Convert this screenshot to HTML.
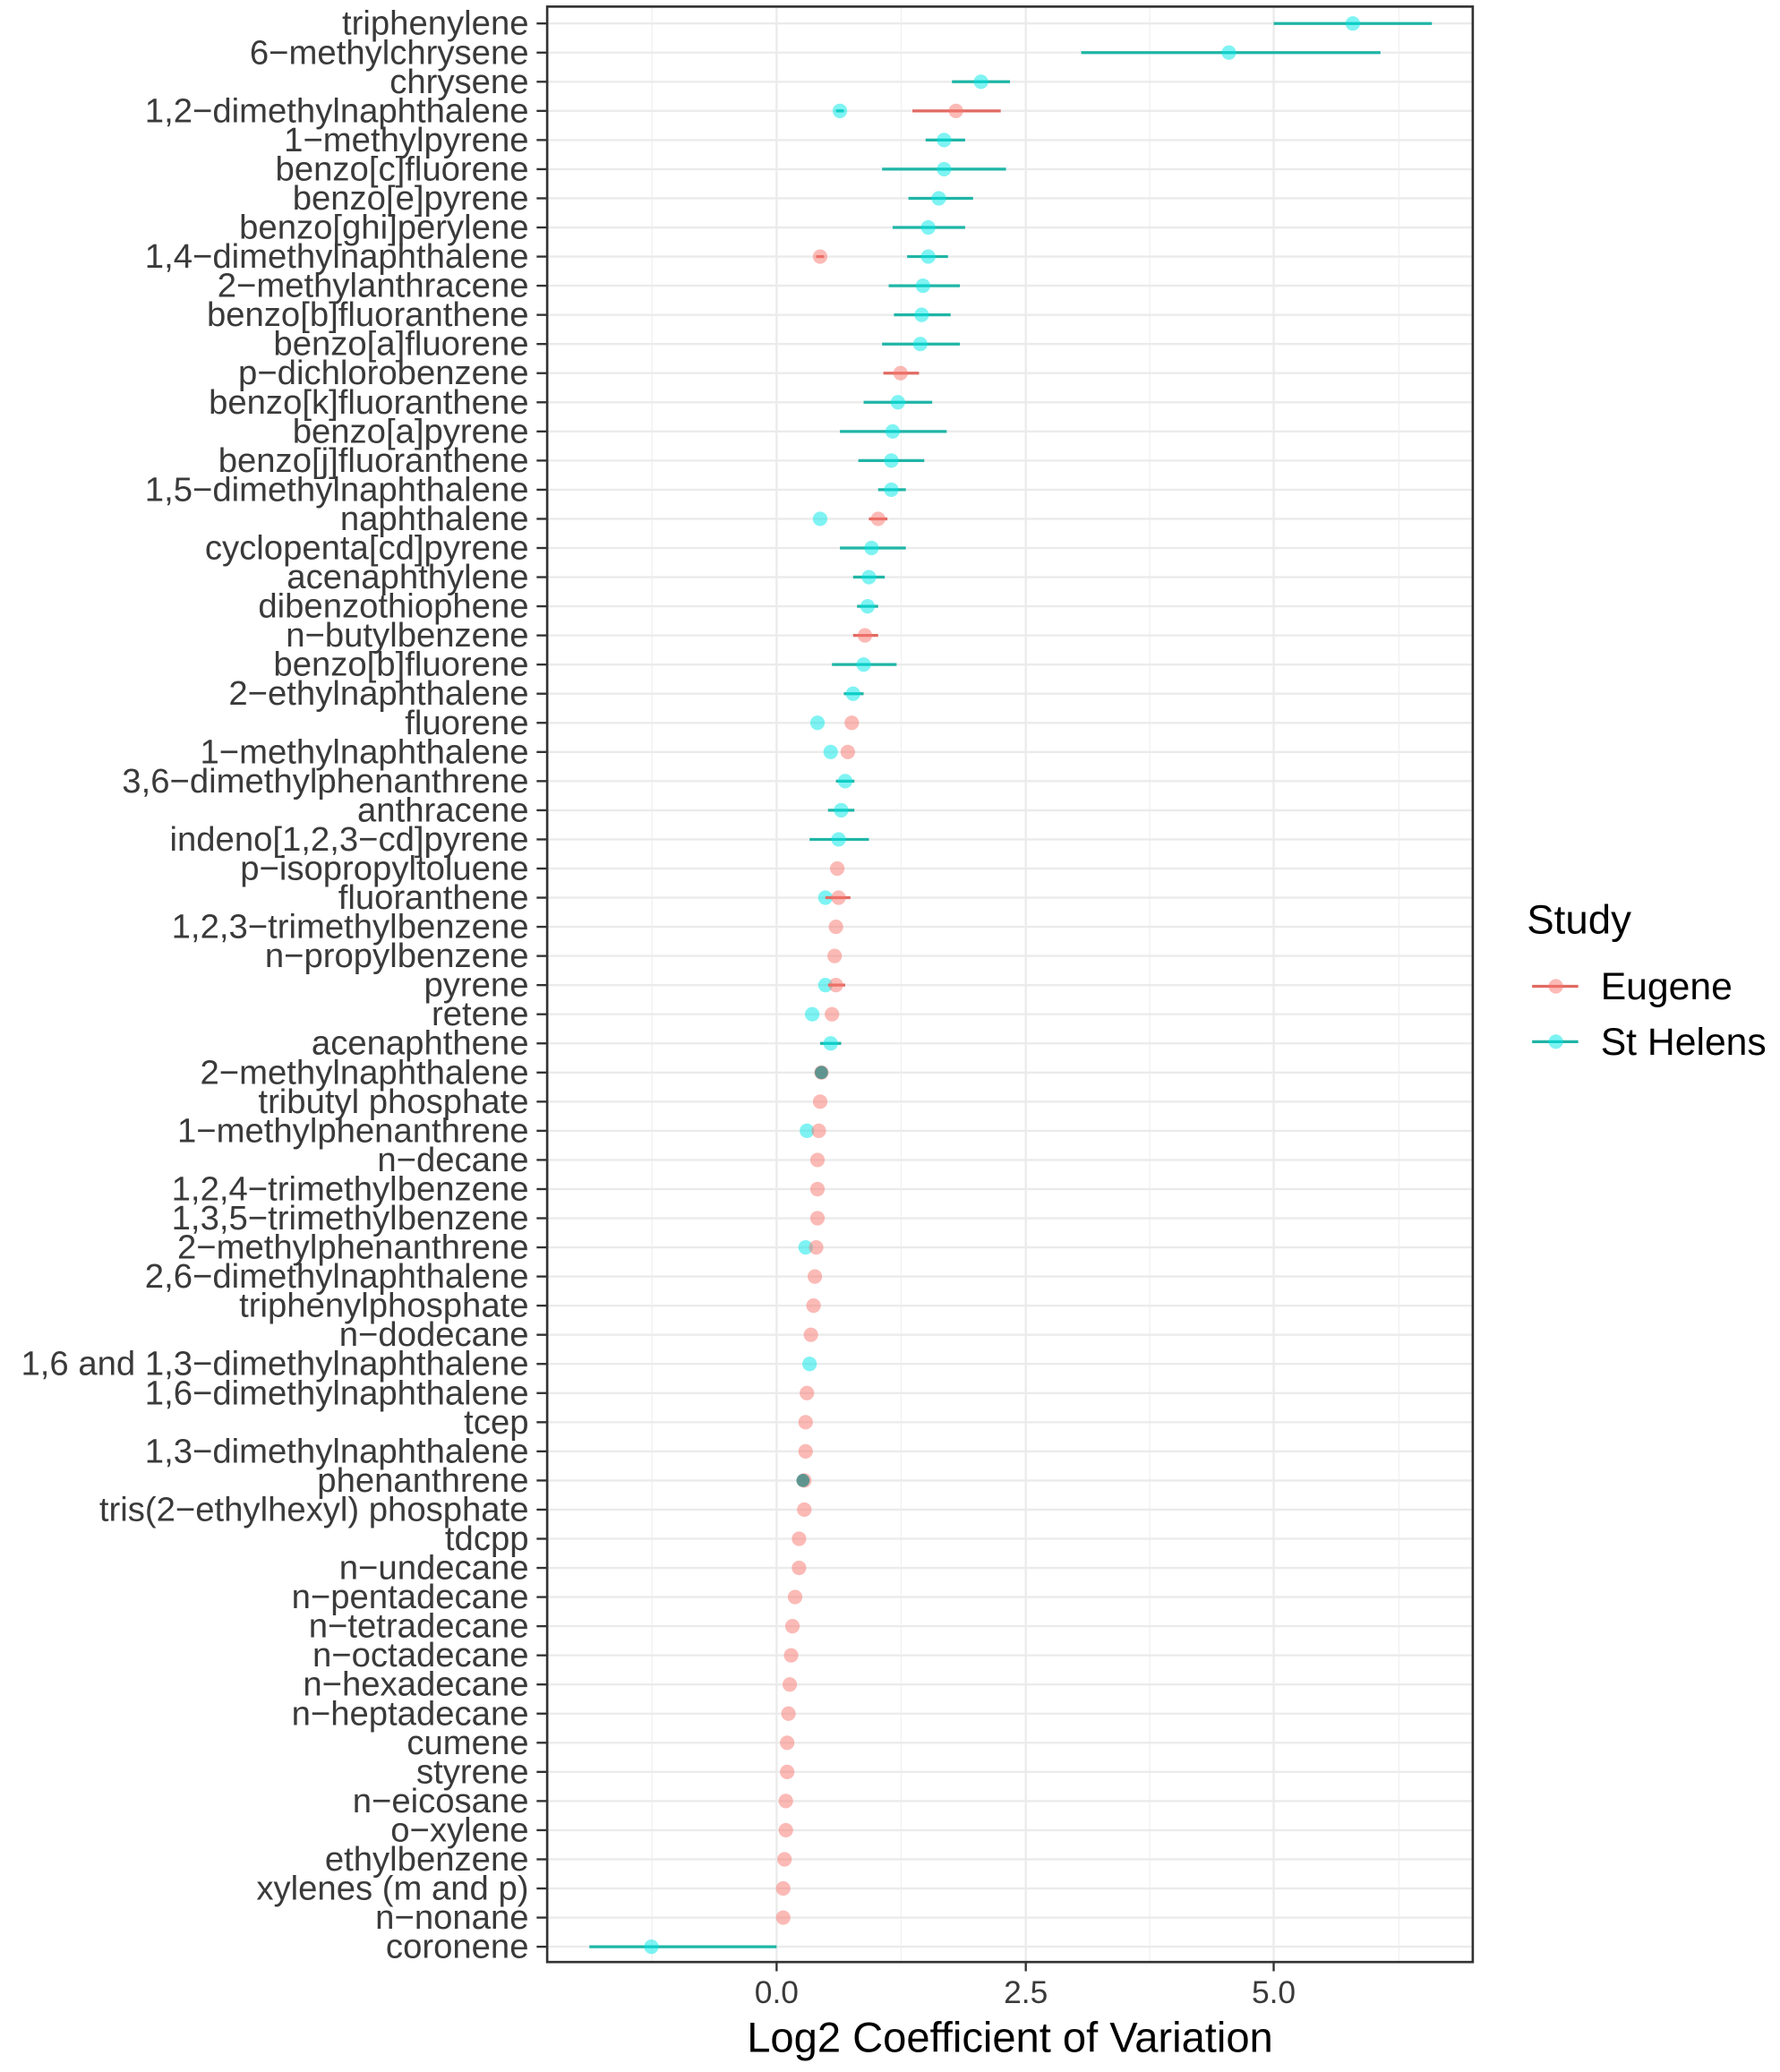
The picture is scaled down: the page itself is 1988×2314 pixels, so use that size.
<!DOCTYPE html>
<html><head><meta charset="utf-8"><style>
html,body{margin:0;padding:0;background:#fff}
svg{display:block}
.l{font-family:"Liberation Sans",Arial,sans-serif;font-size:26px;fill:#3a3a3a;text-anchor:end;dominant-baseline:central}
.g{stroke:#ebebeb;stroke-width:1.6}
.t{stroke:#333;stroke-width:1.6}
.er{stroke:#e06a62;stroke-width:2.2}
.ec{stroke:#1fb5a6;stroke-width:2.2}
.pr{fill:#F8766D;opacity:.5}
.pc{fill:#00E8E8;opacity:.5}
</style></head><body>
<svg width="1988" height="2314" viewBox="0 0 1350 1571.4" xmlns="http://www.w3.org/2000/svg">
<rect x="0" y="0" width="1350" height="1571.4" fill="#fff"/>
<g stroke="#f2f2f2" stroke-width="1">
<line x1="494.5" y1="5" x2="494.5" y2="1488"/><line x1="683.5" y1="5" x2="683.5" y2="1488"/><line x1="872" y1="5" x2="872" y2="1488"/><line x1="1061" y1="5" x2="1061" y2="1488"/>
</g>
<g stroke="#ebebeb" stroke-width="1.6">
<line x1="589" y1="5" x2="589" y2="1488"/><line x1="778" y1="5" x2="778" y2="1488"/><line x1="966" y1="5" x2="966" y2="1488"/>
</g>
<g transform="translate(0,17.8)"><line class="g" x1="415" x2="1117"/><line class="t" x1="407" x2="415"/><text class="l" x="401">triphenylene</text><line class="ec" x1="966" x2="1086"/><circle class="pc" cx="1026" r="5.5"/></g>
<g transform="translate(0,39.9)"><line class="g" x1="415" x2="1117"/><line class="t" x1="407" x2="415"/><text class="l" x="401">6−methylchrysene</text><line class="ec" x1="820" x2="1047"/><circle class="pc" cx="932" r="5.5"/></g>
<g transform="translate(0,62.0)"><line class="g" x1="415" x2="1117"/><line class="t" x1="407" x2="415"/><text class="l" x="401">chrysene</text><line class="ec" x1="722" x2="766"/><circle class="pc" cx="744" r="5.5"/></g>
<g transform="translate(0,84.1)"><line class="g" x1="415" x2="1117"/><line class="t" x1="407" x2="415"/><text class="l" x="401">1,2−dimethylnaphthalene</text><line class="ec" x1="634" x2="640"/><circle class="pc" cx="637" r="5.5"/><line class="er" x1="692" x2="759"/><circle class="pr" cx="725" r="5.5"/></g>
<g transform="translate(0,106.2)"><line class="g" x1="415" x2="1117"/><line class="t" x1="407" x2="415"/><text class="l" x="401">1−methylpyrene</text><line class="ec" x1="702" x2="732"/><circle class="pc" cx="716" r="5.5"/></g>
<g transform="translate(0,128.3)"><line class="g" x1="415" x2="1117"/><line class="t" x1="407" x2="415"/><text class="l" x="401">benzo[c]fluorene</text><line class="ec" x1="669" x2="763"/><circle class="pc" cx="716" r="5.5"/></g>
<g transform="translate(0,150.4)"><line class="g" x1="415" x2="1117"/><line class="t" x1="407" x2="415"/><text class="l" x="401">benzo[e]pyrene</text><line class="ec" x1="689" x2="738"/><circle class="pc" cx="712" r="5.5"/></g>
<g transform="translate(0,172.5)"><line class="g" x1="415" x2="1117"/><line class="t" x1="407" x2="415"/><text class="l" x="401">benzo[ghi]perylene</text><line class="ec" x1="677" x2="732"/><circle class="pc" cx="704" r="5.5"/></g>
<g transform="translate(0,194.6)"><line class="g" x1="415" x2="1117"/><line class="t" x1="407" x2="415"/><text class="l" x="401">1,4−dimethylnaphthalene</text><line class="er" x1="619" x2="625"/><circle class="pr" cx="622" r="5.5"/><line class="ec" x1="688" x2="719"/><circle class="pc" cx="704" r="5.5"/></g>
<g transform="translate(0,216.7)"><line class="g" x1="415" x2="1117"/><line class="t" x1="407" x2="415"/><text class="l" x="401">2−methylanthracene</text><line class="ec" x1="674" x2="728"/><circle class="pc" cx="700" r="5.5"/></g>
<g transform="translate(0,238.8)"><line class="g" x1="415" x2="1117"/><line class="t" x1="407" x2="415"/><text class="l" x="401">benzo[b]fluoranthene</text><line class="ec" x1="678" x2="721"/><circle class="pc" cx="699" r="5.5"/></g>
<g transform="translate(0,260.9)"><line class="g" x1="415" x2="1117"/><line class="t" x1="407" x2="415"/><text class="l" x="401">benzo[a]fluorene</text><line class="ec" x1="669" x2="728"/><circle class="pc" cx="698" r="5.5"/></g>
<g transform="translate(0,283.0)"><line class="g" x1="415" x2="1117"/><line class="t" x1="407" x2="415"/><text class="l" x="401">p−dichlorobenzene</text><line class="er" x1="670" x2="697"/><circle class="pr" cx="683" r="5.5"/></g>
<g transform="translate(0,305.1)"><line class="g" x1="415" x2="1117"/><line class="t" x1="407" x2="415"/><text class="l" x="401">benzo[k]fluoranthene</text><line class="ec" x1="655" x2="707"/><circle class="pc" cx="681" r="5.5"/></g>
<g transform="translate(0,327.2)"><line class="g" x1="415" x2="1117"/><line class="t" x1="407" x2="415"/><text class="l" x="401">benzo[a]pyrene</text><line class="ec" x1="637" x2="718"/><circle class="pc" cx="677" r="5.5"/></g>
<g transform="translate(0,349.3)"><line class="g" x1="415" x2="1117"/><line class="t" x1="407" x2="415"/><text class="l" x="401">benzo[j]fluoranthene</text><line class="ec" x1="651" x2="701"/><circle class="pc" cx="676" r="5.5"/></g>
<g transform="translate(0,371.4)"><line class="g" x1="415" x2="1117"/><line class="t" x1="407" x2="415"/><text class="l" x="401">1,5−dimethylnaphthalene</text><line class="ec" x1="666" x2="687"/><circle class="pc" cx="676" r="5.5"/></g>
<g transform="translate(0,393.5)"><line class="g" x1="415" x2="1117"/><line class="t" x1="407" x2="415"/><text class="l" x="401">naphthalene</text><circle class="pc" cx="622" r="5.5"/><line class="er" x1="659" x2="673"/><circle class="pr" cx="666" r="5.5"/></g>
<g transform="translate(0,415.6)"><line class="g" x1="415" x2="1117"/><line class="t" x1="407" x2="415"/><text class="l" x="401">cyclopenta[cd]pyrene</text><line class="ec" x1="637" x2="687"/><circle class="pc" cx="661" r="5.5"/></g>
<g transform="translate(0,437.7)"><line class="g" x1="415" x2="1117"/><line class="t" x1="407" x2="415"/><text class="l" x="401">acenaphthylene</text><line class="ec" x1="647" x2="671"/><circle class="pc" cx="659" r="5.5"/></g>
<g transform="translate(0,459.8)"><line class="g" x1="415" x2="1117"/><line class="t" x1="407" x2="415"/><text class="l" x="401">dibenzothiophene</text><line class="ec" x1="650" x2="666"/><circle class="pc" cx="658" r="5.5"/></g>
<g transform="translate(0,481.9)"><line class="g" x1="415" x2="1117"/><line class="t" x1="407" x2="415"/><text class="l" x="401">n−butylbenzene</text><line class="er" x1="647" x2="666"/><circle class="pr" cx="656" r="5.5"/></g>
<g transform="translate(0,504.0)"><line class="g" x1="415" x2="1117"/><line class="t" x1="407" x2="415"/><text class="l" x="401">benzo[b]fluorene</text><line class="ec" x1="631" x2="680"/><circle class="pc" cx="655" r="5.5"/></g>
<g transform="translate(0,526.1)"><line class="g" x1="415" x2="1117"/><line class="t" x1="407" x2="415"/><text class="l" x="401">2−ethylnaphthalene</text><line class="ec" x1="640" x2="655"/><circle class="pc" cx="647" r="5.5"/></g>
<g transform="translate(0,548.2)"><line class="g" x1="415" x2="1117"/><line class="t" x1="407" x2="415"/><text class="l" x="401">fluorene</text><circle class="pc" cx="620" r="5.5"/><circle class="pr" cx="646" r="5.5"/></g>
<g transform="translate(0,570.3)"><line class="g" x1="415" x2="1117"/><line class="t" x1="407" x2="415"/><text class="l" x="401">1−methylnaphthalene</text><circle class="pc" cx="630" r="5.5"/><circle class="pr" cx="643" r="5.5"/></g>
<g transform="translate(0,592.4)"><line class="g" x1="415" x2="1117"/><line class="t" x1="407" x2="415"/><text class="l" x="401">3,6−dimethylphenanthrene</text><line class="ec" x1="634" x2="648"/><circle class="pc" cx="641" r="5.5"/></g>
<g transform="translate(0,614.5)"><line class="g" x1="415" x2="1117"/><line class="t" x1="407" x2="415"/><text class="l" x="401">anthracene</text><line class="ec" x1="628" x2="648"/><circle class="pc" cx="638" r="5.5"/></g>
<g transform="translate(0,636.6)"><line class="g" x1="415" x2="1117"/><line class="t" x1="407" x2="415"/><text class="l" x="401">indeno[1,2,3−cd]pyrene</text><line class="ec" x1="614" x2="659"/><circle class="pc" cx="636" r="5.5"/></g>
<g transform="translate(0,658.7)"><line class="g" x1="415" x2="1117"/><line class="t" x1="407" x2="415"/><text class="l" x="401">p−isopropyltoluene</text><circle class="pr" cx="635" r="5.5"/></g>
<g transform="translate(0,680.8)"><line class="g" x1="415" x2="1117"/><line class="t" x1="407" x2="415"/><text class="l" x="401">fluoranthene</text><circle class="pc" cx="626" r="5.5"/><line class="er" x1="626" x2="645"/><circle class="pr" cx="636" r="5.5"/></g>
<g transform="translate(0,702.9)"><line class="g" x1="415" x2="1117"/><line class="t" x1="407" x2="415"/><text class="l" x="401">1,2,3−trimethylbenzene</text><circle class="pr" cx="634" r="5.5"/></g>
<g transform="translate(0,725.0)"><line class="g" x1="415" x2="1117"/><line class="t" x1="407" x2="415"/><text class="l" x="401">n−propylbenzene</text><circle class="pr" cx="633" r="5.5"/></g>
<g transform="translate(0,747.1)"><line class="g" x1="415" x2="1117"/><line class="t" x1="407" x2="415"/><text class="l" x="401">pyrene</text><circle class="pc" cx="626" r="5.5"/><line class="er" x1="628" x2="641"/><circle class="pr" cx="634" r="5.5"/></g>
<g transform="translate(0,769.2)"><line class="g" x1="415" x2="1117"/><line class="t" x1="407" x2="415"/><text class="l" x="401">retene</text><circle class="pc" cx="616" r="5.5"/><circle class="pr" cx="631" r="5.5"/></g>
<g transform="translate(0,791.3)"><line class="g" x1="415" x2="1117"/><line class="t" x1="407" x2="415"/><text class="l" x="401">acenaphthene</text><line class="ec" x1="622" x2="638"/><circle class="pc" cx="630" r="5.5"/></g>
<g transform="translate(0,813.4)"><line class="g" x1="415" x2="1117"/><line class="t" x1="407" x2="415"/><text class="l" x="401">2−methylnaphthalene</text><circle class="pr" cx="623" r="5.5"/><circle cx="623" r="5" fill="#3a8c86" opacity=".8"/></g>
<g transform="translate(0,835.5)"><line class="g" x1="415" x2="1117"/><line class="t" x1="407" x2="415"/><text class="l" x="401">tributyl phosphate</text><circle class="pr" cx="622" r="5.5"/></g>
<g transform="translate(0,857.6)"><line class="g" x1="415" x2="1117"/><line class="t" x1="407" x2="415"/><text class="l" x="401">1−methylphenanthrene</text><circle class="pc" cx="612" r="5.5"/><circle class="pr" cx="621" r="5.5"/></g>
<g transform="translate(0,879.7)"><line class="g" x1="415" x2="1117"/><line class="t" x1="407" x2="415"/><text class="l" x="401">n−decane</text><circle class="pr" cx="620" r="5.5"/></g>
<g transform="translate(0,901.8)"><line class="g" x1="415" x2="1117"/><line class="t" x1="407" x2="415"/><text class="l" x="401">1,2,4−trimethylbenzene</text><circle class="pr" cx="620" r="5.5"/></g>
<g transform="translate(0,923.9)"><line class="g" x1="415" x2="1117"/><line class="t" x1="407" x2="415"/><text class="l" x="401">1,3,5−trimethylbenzene</text><circle class="pr" cx="620" r="5.5"/></g>
<g transform="translate(0,946.0)"><line class="g" x1="415" x2="1117"/><line class="t" x1="407" x2="415"/><text class="l" x="401">2−methylphenanthrene</text><circle class="pc" cx="611" r="5.5"/><circle class="pr" cx="619" r="5.5"/></g>
<g transform="translate(0,968.1)"><line class="g" x1="415" x2="1117"/><line class="t" x1="407" x2="415"/><text class="l" x="401">2,6−dimethylnaphthalene</text><circle class="pr" cx="618" r="5.5"/></g>
<g transform="translate(0,990.2)"><line class="g" x1="415" x2="1117"/><line class="t" x1="407" x2="415"/><text class="l" x="401">triphenylphosphate</text><circle class="pr" cx="617" r="5.5"/></g>
<g transform="translate(0,1012.3)"><line class="g" x1="415" x2="1117"/><line class="t" x1="407" x2="415"/><text class="l" x="401">n−dodecane</text><circle class="pr" cx="615" r="5.5"/></g>
<g transform="translate(0,1034.4)"><line class="g" x1="415" x2="1117"/><line class="t" x1="407" x2="415"/><text class="l" x="401">1,6 and 1,3−dimethylnaphthalene</text><circle class="pc" cx="614" r="5.5"/></g>
<g transform="translate(0,1056.5)"><line class="g" x1="415" x2="1117"/><line class="t" x1="407" x2="415"/><text class="l" x="401">1,6−dimethylnaphthalene</text><circle class="pr" cx="612" r="5.5"/></g>
<g transform="translate(0,1078.6)"><line class="g" x1="415" x2="1117"/><line class="t" x1="407" x2="415"/><text class="l" x="401">tcep</text><circle class="pr" cx="611" r="5.5"/></g>
<g transform="translate(0,1100.7)"><line class="g" x1="415" x2="1117"/><line class="t" x1="407" x2="415"/><text class="l" x="401">1,3−dimethylnaphthalene</text><circle class="pr" cx="611" r="5.5"/></g>
<g transform="translate(0,1122.8)"><line class="g" x1="415" x2="1117"/><line class="t" x1="407" x2="415"/><text class="l" x="401">phenanthrene</text><circle class="pr" cx="610" r="5.5"/><circle cx="609" r="5" fill="#3a8c86" opacity=".8"/></g>
<g transform="translate(0,1144.9)"><line class="g" x1="415" x2="1117"/><line class="t" x1="407" x2="415"/><text class="l" x="401">tris(2−ethylhexyl) phosphate</text><circle class="pr" cx="610" r="5.5"/></g>
<g transform="translate(0,1167.0)"><line class="g" x1="415" x2="1117"/><line class="t" x1="407" x2="415"/><text class="l" x="401">tdcpp</text><circle class="pr" cx="606" r="5.5"/></g>
<g transform="translate(0,1189.1)"><line class="g" x1="415" x2="1117"/><line class="t" x1="407" x2="415"/><text class="l" x="401">n−undecane</text><circle class="pr" cx="606" r="5.5"/></g>
<g transform="translate(0,1211.2)"><line class="g" x1="415" x2="1117"/><line class="t" x1="407" x2="415"/><text class="l" x="401">n−pentadecane</text><circle class="pr" cx="603" r="5.5"/></g>
<g transform="translate(0,1233.3)"><line class="g" x1="415" x2="1117"/><line class="t" x1="407" x2="415"/><text class="l" x="401">n−tetradecane</text><circle class="pr" cx="601" r="5.5"/></g>
<g transform="translate(0,1255.4)"><line class="g" x1="415" x2="1117"/><line class="t" x1="407" x2="415"/><text class="l" x="401">n−octadecane</text><circle class="pr" cx="600" r="5.5"/></g>
<g transform="translate(0,1277.5)"><line class="g" x1="415" x2="1117"/><line class="t" x1="407" x2="415"/><text class="l" x="401">n−hexadecane</text><circle class="pr" cx="599" r="5.5"/></g>
<g transform="translate(0,1299.6)"><line class="g" x1="415" x2="1117"/><line class="t" x1="407" x2="415"/><text class="l" x="401">n−heptadecane</text><circle class="pr" cx="598" r="5.5"/></g>
<g transform="translate(0,1321.7)"><line class="g" x1="415" x2="1117"/><line class="t" x1="407" x2="415"/><text class="l" x="401">cumene</text><circle class="pr" cx="597" r="5.5"/></g>
<g transform="translate(0,1343.8)"><line class="g" x1="415" x2="1117"/><line class="t" x1="407" x2="415"/><text class="l" x="401">styrene</text><circle class="pr" cx="597" r="5.5"/></g>
<g transform="translate(0,1365.9)"><line class="g" x1="415" x2="1117"/><line class="t" x1="407" x2="415"/><text class="l" x="401">n−eicosane</text><circle class="pr" cx="596" r="5.5"/></g>
<g transform="translate(0,1388.0)"><line class="g" x1="415" x2="1117"/><line class="t" x1="407" x2="415"/><text class="l" x="401">o−xylene</text><circle class="pr" cx="596" r="5.5"/></g>
<g transform="translate(0,1410.1)"><line class="g" x1="415" x2="1117"/><line class="t" x1="407" x2="415"/><text class="l" x="401">ethylbenzene</text><circle class="pr" cx="595" r="5.5"/></g>
<g transform="translate(0,1432.2)"><line class="g" x1="415" x2="1117"/><line class="t" x1="407" x2="415"/><text class="l" x="401">xylenes (m and p)</text><circle class="pr" cx="594" r="5.5"/></g>
<g transform="translate(0,1454.3)"><line class="g" x1="415" x2="1117"/><line class="t" x1="407" x2="415"/><text class="l" x="401">n−nonane</text><circle class="pr" cx="594" r="5.5"/></g>
<g transform="translate(0,1476.4)"><line class="g" x1="415" x2="1117"/><line class="t" x1="407" x2="415"/><text class="l" x="401">coronene</text><line class="ec" x1="447" x2="589"/><circle class="pc" cx="494" r="5.5"/></g>
<rect x="415" y="5" width="702" height="1483" fill="none" stroke="#333" stroke-width="1.8"/>
<g stroke="#333" stroke-width="1.6"><line x1="589" y1="1488" x2="589" y2="1495"/><line x1="778" y1="1488" x2="778" y2="1495"/><line x1="966" y1="1488" x2="966" y2="1495"/></g>
<g font-family="Liberation Sans,Arial,sans-serif" font-size="24" fill="#3a3a3a" text-anchor="middle">
<text x="589" y="1519">0.0</text><text x="778" y="1519">2.5</text><text x="966" y="1519">5.0</text>
</g>
<text x="766" y="1556" font-family="Liberation Sans,Arial,sans-serif" font-size="32" fill="#000" text-anchor="middle">Log2 Coefficient of Variation</text>
<g font-family="Liberation Sans,Arial,sans-serif" fill="#000">
<text x="1158" y="708" font-size="31">Study</text>
<line x1="1162" y1="748" x2="1197" y2="748" stroke="#e06a62" stroke-width="2.2"/><circle cx="1180" cy="748" r="5.5" fill="#F8766D" opacity=".5"/>
<text x="1214" y="758" font-size="29">Eugene</text>
<line x1="1162" y1="790" x2="1197" y2="790" stroke="#1fb5a6" stroke-width="2.2"/><circle cx="1180" cy="790" r="5.5" fill="#00E8E8" opacity=".5"/>
<text x="1214" y="800" font-size="29">St Helens</text>
</g>
</svg>
</body></html>
